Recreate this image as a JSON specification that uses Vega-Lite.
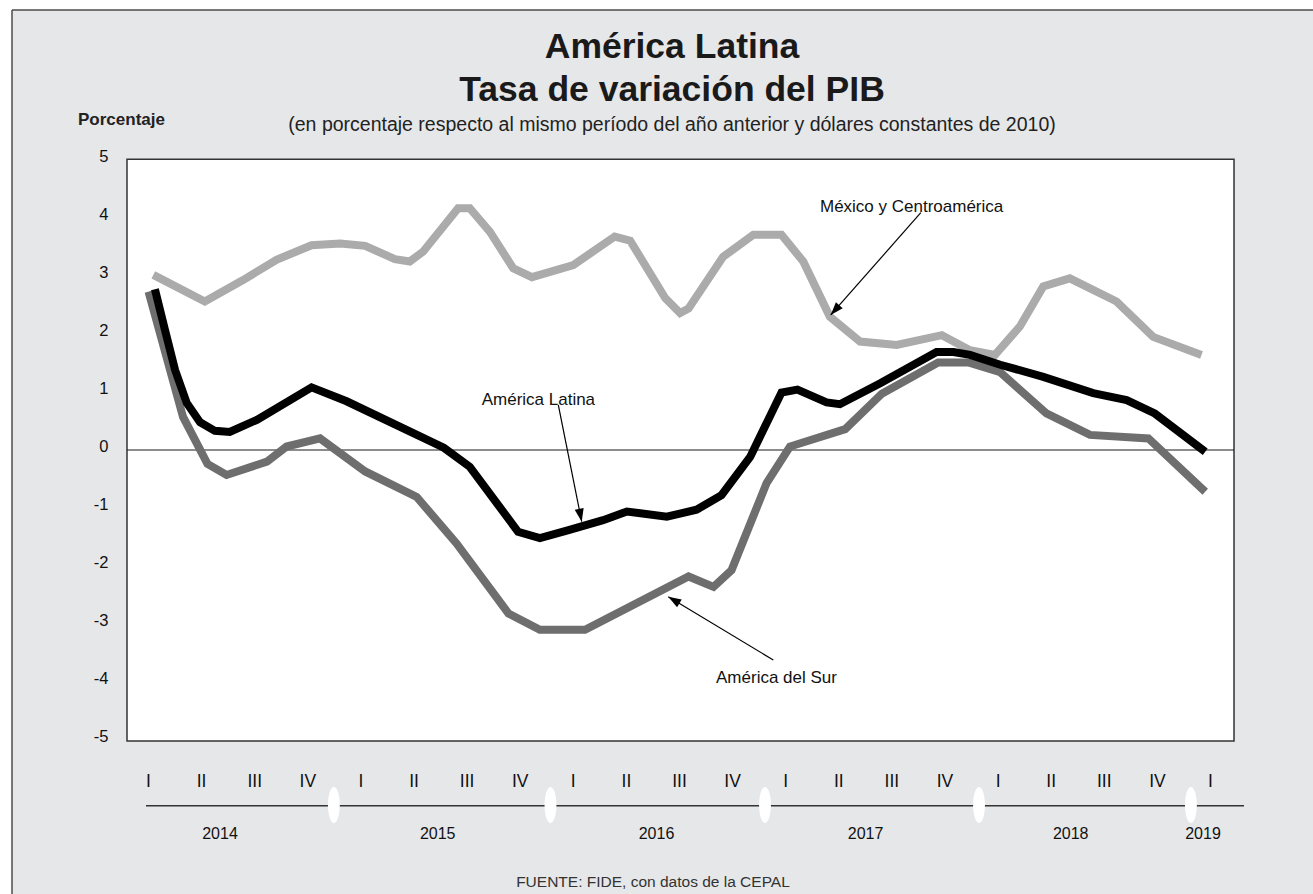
{
  "$schema": "https://vega.github.io/schema/vega-lite/v6.json",
  "width": 1301,
  "height": 884,
  "autosize": {"type": "none"},
  "padding": {"left": 12, "top": 10, "right": 0, "bottom": 0},
  "background": "#ffffff",
  "title": {
    "text": ["América Latina", "Tasa de variación del PIB"],
    "subtitle": "(en porcentaje respecto al mismo período del año anterior y dólares constantes de 2010)",
    "anchor": "middle",
    "frame": "group",
    "orient": "top",
    "offset": -125,
    "dx": 9.5,
    "font": "Liberation Sans, sans-serif",
    "fontSize": 35.5,
    "fontWeight": "bold",
    "lineHeight": 43,
    "color": "#1a1a1a",
    "subtitleFont": "Liberation Sans, sans-serif",
    "subtitleFontSize": 19.5,
    "subtitleColor": "#222222",
    "subtitlePadding": 7
  },
  "config": {
    "view": {"stroke": null, "fill": "#e6e7e9"},
    "axis": {"grid": false, "domain": false, "ticks": false, "tickSize": 0},
    "text": {"font": "Liberation Sans, sans-serif", "color": "#111111"}
  },
  "datasets": {
    "series": [
      {"serie": "México y Centroamérica", "t": 0.10, "v": 3.02},
      {"serie": "México y Centroamérica", "t": 1.07, "v": 2.56},
      {"serie": "México y Centroamérica", "t": 1.79, "v": 2.93},
      {"serie": "México y Centroamérica", "t": 2.42, "v": 3.28},
      {"serie": "México y Centroamérica", "t": 3.08, "v": 3.53},
      {"serie": "México y Centroamérica", "t": 3.62, "v": 3.56},
      {"serie": "México y Centroamérica", "t": 4.09, "v": 3.52},
      {"serie": "México y Centroamérica", "t": 4.65, "v": 3.29},
      {"serie": "México y Centroamérica", "t": 4.93, "v": 3.25},
      {"serie": "México y Centroamérica", "t": 5.18, "v": 3.42},
      {"serie": "México y Centroamérica", "t": 5.84, "v": 4.17},
      {"serie": "México y Centroamérica", "t": 6.06, "v": 4.17},
      {"serie": "México y Centroamérica", "t": 6.44, "v": 3.76},
      {"serie": "México y Centroamérica", "t": 6.88, "v": 3.13},
      {"serie": "México y Centroamérica", "t": 7.23, "v": 2.98},
      {"serie": "México y Centroamérica", "t": 8.01, "v": 3.19},
      {"serie": "México y Centroamérica", "t": 8.79, "v": 3.68},
      {"serie": "México y Centroamérica", "t": 9.08, "v": 3.61},
      {"serie": "México y Centroamérica", "t": 9.74, "v": 2.62},
      {"serie": "México y Centroamérica", "t": 10.02, "v": 2.36},
      {"serie": "México y Centroamérica", "t": 10.18, "v": 2.44},
      {"serie": "México y Centroamérica", "t": 10.83, "v": 3.33},
      {"serie": "México y Centroamérica", "t": 11.40, "v": 3.71},
      {"serie": "México y Centroamérica", "t": 11.93, "v": 3.71},
      {"serie": "México y Centroamérica", "t": 12.34, "v": 3.25},
      {"serie": "México y Centroamérica", "t": 12.84, "v": 2.30},
      {"serie": "México y Centroamérica", "t": 13.41, "v": 1.87},
      {"serie": "México y Centroamérica", "t": 14.10, "v": 1.81},
      {"serie": "México y Centroamérica", "t": 14.95, "v": 1.98},
      {"serie": "México y Centroamérica", "t": 15.48, "v": 1.72},
      {"serie": "México y Centroamérica", "t": 15.95, "v": 1.64},
      {"serie": "México y Centroamérica", "t": 16.42, "v": 2.13},
      {"serie": "México y Centroamérica", "t": 16.86, "v": 2.82},
      {"serie": "México y Centroamérica", "t": 17.36, "v": 2.96},
      {"serie": "México y Centroamérica", "t": 18.24, "v": 2.56},
      {"serie": "México y Centroamérica", "t": 18.93, "v": 1.95},
      {"serie": "México y Centroamérica", "t": 19.84, "v": 1.64},
      {"serie": "América del Sur", "t": 0.01, "v": 2.73},
      {"serie": "América del Sur", "t": 0.66, "v": 0.57},
      {"serie": "América del Sur", "t": 1.12, "v": -0.24},
      {"serie": "América del Sur", "t": 1.48, "v": -0.43},
      {"serie": "América del Sur", "t": 2.24, "v": -0.20},
      {"serie": "América del Sur", "t": 2.61, "v": 0.06},
      {"serie": "América del Sur", "t": 3.24, "v": 0.20},
      {"serie": "América del Sur", "t": 4.09, "v": -0.37},
      {"serie": "América del Sur", "t": 5.06, "v": -0.81},
      {"serie": "América del Sur", "t": 5.81, "v": -1.61},
      {"serie": "América del Sur", "t": 6.79, "v": -2.82},
      {"serie": "América del Sur", "t": 7.38, "v": -3.10},
      {"serie": "América del Sur", "t": 8.23, "v": -3.10},
      {"serie": "América del Sur", "t": 10.18, "v": -2.18},
      {"serie": "América del Sur", "t": 10.65, "v": -2.36},
      {"serie": "América del Sur", "t": 10.99, "v": -2.07},
      {"serie": "América del Sur", "t": 11.65, "v": -0.57},
      {"serie": "América del Sur", "t": 12.09, "v": 0.06},
      {"serie": "América del Sur", "t": 13.13, "v": 0.36},
      {"serie": "América del Sur", "t": 13.82, "v": 0.97},
      {"serie": "América del Sur", "t": 14.88, "v": 1.51},
      {"serie": "América del Sur", "t": 15.45, "v": 1.51},
      {"serie": "América del Sur", "t": 16.05, "v": 1.34},
      {"serie": "América del Sur", "t": 16.92, "v": 0.63},
      {"serie": "América del Sur", "t": 17.74, "v": 0.26},
      {"serie": "América del Sur", "t": 18.84, "v": 0.20},
      {"serie": "América del Sur", "t": 19.91, "v": -0.72},
      {"serie": "América Latina", "t": 0.13, "v": 2.77},
      {"serie": "América Latina", "t": 0.32, "v": 2.07},
      {"serie": "América Latina", "t": 0.51, "v": 1.38},
      {"serie": "América Latina", "t": 0.73, "v": 0.81},
      {"serie": "América Latina", "t": 0.98, "v": 0.48},
      {"serie": "América Latina", "t": 1.26, "v": 0.33},
      {"serie": "América Latina", "t": 1.54, "v": 0.31},
      {"serie": "América Latina", "t": 2.05, "v": 0.52},
      {"serie": "América Latina", "t": 3.08, "v": 1.08},
      {"serie": "América Latina", "t": 3.74, "v": 0.84},
      {"serie": "América Latina", "t": 5.57, "v": 0.04},
      {"serie": "América Latina", "t": 6.06, "v": -0.29},
      {"serie": "América Latina", "t": 6.97, "v": -1.41},
      {"serie": "América Latina", "t": 7.38, "v": -1.52},
      {"serie": "América Latina", "t": 7.92, "v": -1.38},
      {"serie": "América Latina", "t": 8.57, "v": -1.21},
      {"serie": "América Latina", "t": 9.02, "v": -1.06},
      {"serie": "América Latina", "t": 9.77, "v": -1.15},
      {"serie": "América Latina", "t": 10.33, "v": -1.03},
      {"serie": "América Latina", "t": 10.80, "v": -0.78},
      {"serie": "América Latina", "t": 11.34, "v": -0.12},
      {"serie": "América Latina", "t": 11.93, "v": 0.99},
      {"serie": "América Latina", "t": 12.23, "v": 1.04},
      {"serie": "América Latina", "t": 12.78, "v": 0.82},
      {"serie": "América Latina", "t": 13.03, "v": 0.79},
      {"serie": "América Latina", "t": 13.79, "v": 1.15},
      {"serie": "América Latina", "t": 14.85, "v": 1.69},
      {"serie": "América Latina", "t": 15.17, "v": 1.69},
      {"serie": "América Latina", "t": 15.48, "v": 1.64},
      {"serie": "América Latina", "t": 16.05, "v": 1.47},
      {"serie": "América Latina", "t": 16.86, "v": 1.26},
      {"serie": "América Latina", "t": 17.80, "v": 0.98},
      {"serie": "América Latina", "t": 18.43, "v": 0.86},
      {"serie": "América Latina", "t": 18.96, "v": 0.63},
      {"serie": "América Latina", "t": 19.91, "v": -0.03}
    ],
    "years": [
      {"year": "2014", "t": 1.356},
      {"year": "2015", "t": 5.456},
      {"year": "2016", "t": 9.576},
      {"year": "2017", "t": 13.514},
      {"year": "2018", "t": 17.377},
      {"year": "2019", "t": 19.868}
    ],
    "breaks": [
      {"t": 3.5}, {"t": 7.58}, {"t": 11.62}, {"t": 15.65}, {"t": 19.64}
    ]
  },
  "layer": [
    {
      "data": {"values": [{}]},
      "mark": {"type": "rule", "color": "#4d4d4d", "strokeWidth": 1.5},
      "encoding": {
        "x": {"datum": -2.5612, "type": "quantitative"},
        "x2": {"datum": 21.9397},
        "y": {"datum": 7.5862, "type": "quantitative"}
      }
    },
    {
      "data": {"values": [{}]},
      "mark": {"type": "rule", "color": "#4d4d4d", "strokeWidth": 1.5},
      "encoding": {
        "x": {"datum": -2.5612, "type": "quantitative"},
        "y": {"datum": -7.6552, "type": "quantitative"},
        "y2": {"datum": 7.5862}
      }
    },
    {
      "data": {"values": [{}]},
      "mark": {"type": "rect", "fill": "#ffffff", "stroke": "#333333", "strokeWidth": 1.5},
      "encoding": {
        "x": {"datum": -0.3955, "type": "quantitative"},
        "x2": {"datum": 20.452},
        "y": {"datum": -5.0172, "type": "quantitative"},
        "y2": {"datum": 5.012}
      }
    },
    {
      "data": {"values": [{}]},
      "mark": {"type": "rule", "color": "#1a1a1a", "strokeWidth": 1.2},
      "encoding": {
        "x": {"datum": -0.3955, "type": "quantitative"},
        "x2": {"datum": 20.452},
        "y": {"datum": 0, "type": "quantitative"}
      }
    },
    {
      "data": {"name": "series"},
      "transform": [{"filter": "datum.serie === 'México y Centroamérica'"}],
      "mark": {"type": "line", "color": "#ababab", "strokeWidth": 8},
      "encoding": {
        "x": {
          "field": "t", "type": "quantitative",
          "scale": {"domain": [-2.5612, 21.9397], "nice": false, "zero": false},
          "axis": {
            "title": null,
            "orient": "bottom",
            "offset": -153,
            "values": [0,1,2,3,4,5,6,7,8,9,10,11,12,13,14,15,16,17,18,19,20],
            "labelExpr": "['I','II','III','IV'][datum.value % 4]",
            "labelFont": "Liberation Sans, sans-serif",
            "labelFontSize": 17.5,
            "labelColor": "#111111",
            "labelBaseline": "alphabetic",
            "labelPadding": 45.7,
            "labelFlush": false,
            "labelOverlap": false
          }
        },
        "y": {
          "field": "v", "type": "quantitative",
          "scale": {"domain": [-7.6552, 7.5862], "nice": false, "zero": false},
          "axis": {
            "title": "Porcentaje",
            "titleAngle": 0,
            "titleAlign": "center",
            "titleBaseline": "alphabetic",
            "titleX": -6,
            "titleY": 114,
            "titleFont": "Liberation Sans, sans-serif",
            "titleFontSize": 17,
            "titleFontWeight": "bold",
            "titleColor": "#222222",
            "offset": -115,
            "values": [-5,-4,-3,-2,-1,0,1,2,3,4,5],
            "labelExpr": "datum.value + ''",
            "labelFont": "Liberation Sans, sans-serif",
            "labelFontSize": 16.5,
            "labelColor": "#111111",
            "labelPadding": 19,
            "labelOffset": -3
          }
        }
      }
    },
    {
      "data": {"name": "series"},
      "transform": [{"filter": "datum.serie === 'América del Sur'"}],
      "mark": {"type": "line", "color": "#6e6e6e", "strokeWidth": 8},
      "encoding": {
        "x": {"field": "t", "type": "quantitative"},
        "y": {"field": "v", "type": "quantitative"}
      }
    },
    {
      "data": {"name": "series"},
      "transform": [{"filter": "datum.serie === 'América Latina'"}],
      "mark": {"type": "line", "color": "#000000", "strokeWidth": 8},
      "encoding": {
        "x": {"field": "t", "type": "quantitative"},
        "y": {"field": "v", "type": "quantitative"}
      }
    },
    {
      "data": {"values": [{}]},
      "mark": {"type": "text", "text": "México y Centroamérica", "align": "left", "baseline": "alphabetic", "fontSize": 17},
      "encoding": {
        "x": {"datum": 12.655, "type": "quantitative"},
        "y": {"datum": 4.109, "type": "quantitative"}
      }
    },
    {
      "data": {"values": [{}]},
      "mark": {"type": "text", "text": "América Latina", "align": "left", "baseline": "alphabetic", "fontSize": 17},
      "encoding": {
        "x": {"datum": 6.284, "type": "quantitative"},
        "y": {"datum": 0.776, "type": "quantitative"}
      }
    },
    {
      "data": {"values": [{}]},
      "mark": {"type": "text", "text": "América del Sur", "align": "left", "baseline": "alphabetic", "fontSize": 17},
      "encoding": {
        "x": {"datum": 10.697, "type": "quantitative"},
        "y": {"datum": -4.022, "type": "quantitative"}
      }
    },
    {
      "data": {"values": [{}]},
      "mark": {"type": "rule", "color": "#000000", "strokeWidth": 1.2},
      "encoding": {
        "x": {"datum": 14.554, "type": "quantitative"},
        "y": {"datum": 4.092, "type": "quantitative"},
        "x2": {"datum": 12.857},
        "y2": {"datum": 2.328}
      }
    },
    {
      "data": {"values": [{}]},
      "mark": {"type": "rule", "color": "#000000", "strokeWidth": 1.2},
      "encoding": {
        "x": {"datum": 7.727, "type": "quantitative"},
        "y": {"datum": 0.776, "type": "quantitative"},
        "x2": {"datum": 8.168},
        "y2": {"datum": -1.236}
      }
    },
    {
      "data": {"values": [{}]},
      "mark": {"type": "rule", "color": "#000000", "strokeWidth": 1.2},
      "encoding": {
        "x": {"datum": 11.776, "type": "quantitative"},
        "y": {"datum": -3.621, "type": "quantitative"},
        "x2": {"datum": 9.798},
        "y2": {"datum": -2.529}
      }
    },
    {
      "data": {"values": [{}]},
      "mark": {"type": "point", "shape": "M0,0L-0.35,1L0.35,1Z", "size": 676, "angle": 221.3, "filled": true, "color": "#000000", "opacity": 1, "strokeWidth": 0},
      "encoding": {
        "x": {"datum": 12.857, "type": "quantitative"},
        "y": {"datum": 2.328, "type": "quantitative"}
      }
    },
    {
      "data": {"values": [{}]},
      "mark": {"type": "point", "shape": "M0,0L-0.35,1L0.35,1Z", "size": 676, "angle": 168.7, "filled": true, "color": "#000000", "opacity": 1, "strokeWidth": 0},
      "encoding": {
        "x": {"datum": 8.168, "type": "quantitative"},
        "y": {"datum": -1.236, "type": "quantitative"}
      }
    },
    {
      "data": {"values": [{}]},
      "mark": {"type": "point", "shape": "M0,0L-0.35,1L0.35,1Z", "size": 676, "angle": 301.1, "filled": true, "color": "#000000", "opacity": 1, "strokeWidth": 0},
      "encoding": {
        "x": {"datum": 9.798, "type": "quantitative"},
        "y": {"datum": -2.529, "type": "quantitative"}
      }
    },
    {
      "data": {"values": [{}]},
      "mark": {"type": "rule", "color": "#333333", "strokeWidth": 1.5},
      "encoding": {
        "x": {"datum": -0.038, "type": "quantitative"},
        "x2": {"datum": 20.64},
        "y": {"datum": -6.133, "type": "quantitative"}
      }
    },
    {
      "data": {"name": "breaks"},
      "mark": {"type": "point", "shape": "M0,-1A0.33,1,0,1,1,0,1A0.33,1,0,1,1,0,-1Z", "size": 1296, "filled": true, "color": "#ffffff", "opacity": 1, "strokeWidth": 0},
      "encoding": {
        "x": {"field": "t", "type": "quantitative"},
        "y": {"datum": -6.121, "type": "quantitative"}
      }
    },
    {
      "data": {"name": "years"},
      "mark": {"type": "text", "align": "center", "baseline": "alphabetic", "fontSize": 16},
      "encoding": {
        "x": {"field": "t", "type": "quantitative"},
        "y": {"datum": -6.707, "type": "quantitative"},
        "text": {"field": "year"}
      }
    },
    {
      "data": {"values": [{}]},
      "mark": {"type": "text", "text": "FUENTE: FIDE, con datos de la CEPAL", "align": "center", "baseline": "alphabetic", "fontSize": 15.5, "color": "#333333"},
      "encoding": {
        "x": {"datum": 9.51, "type": "quantitative"},
        "y": {"datum": -7.529, "type": "quantitative"}
      }
    }
  ]
}
